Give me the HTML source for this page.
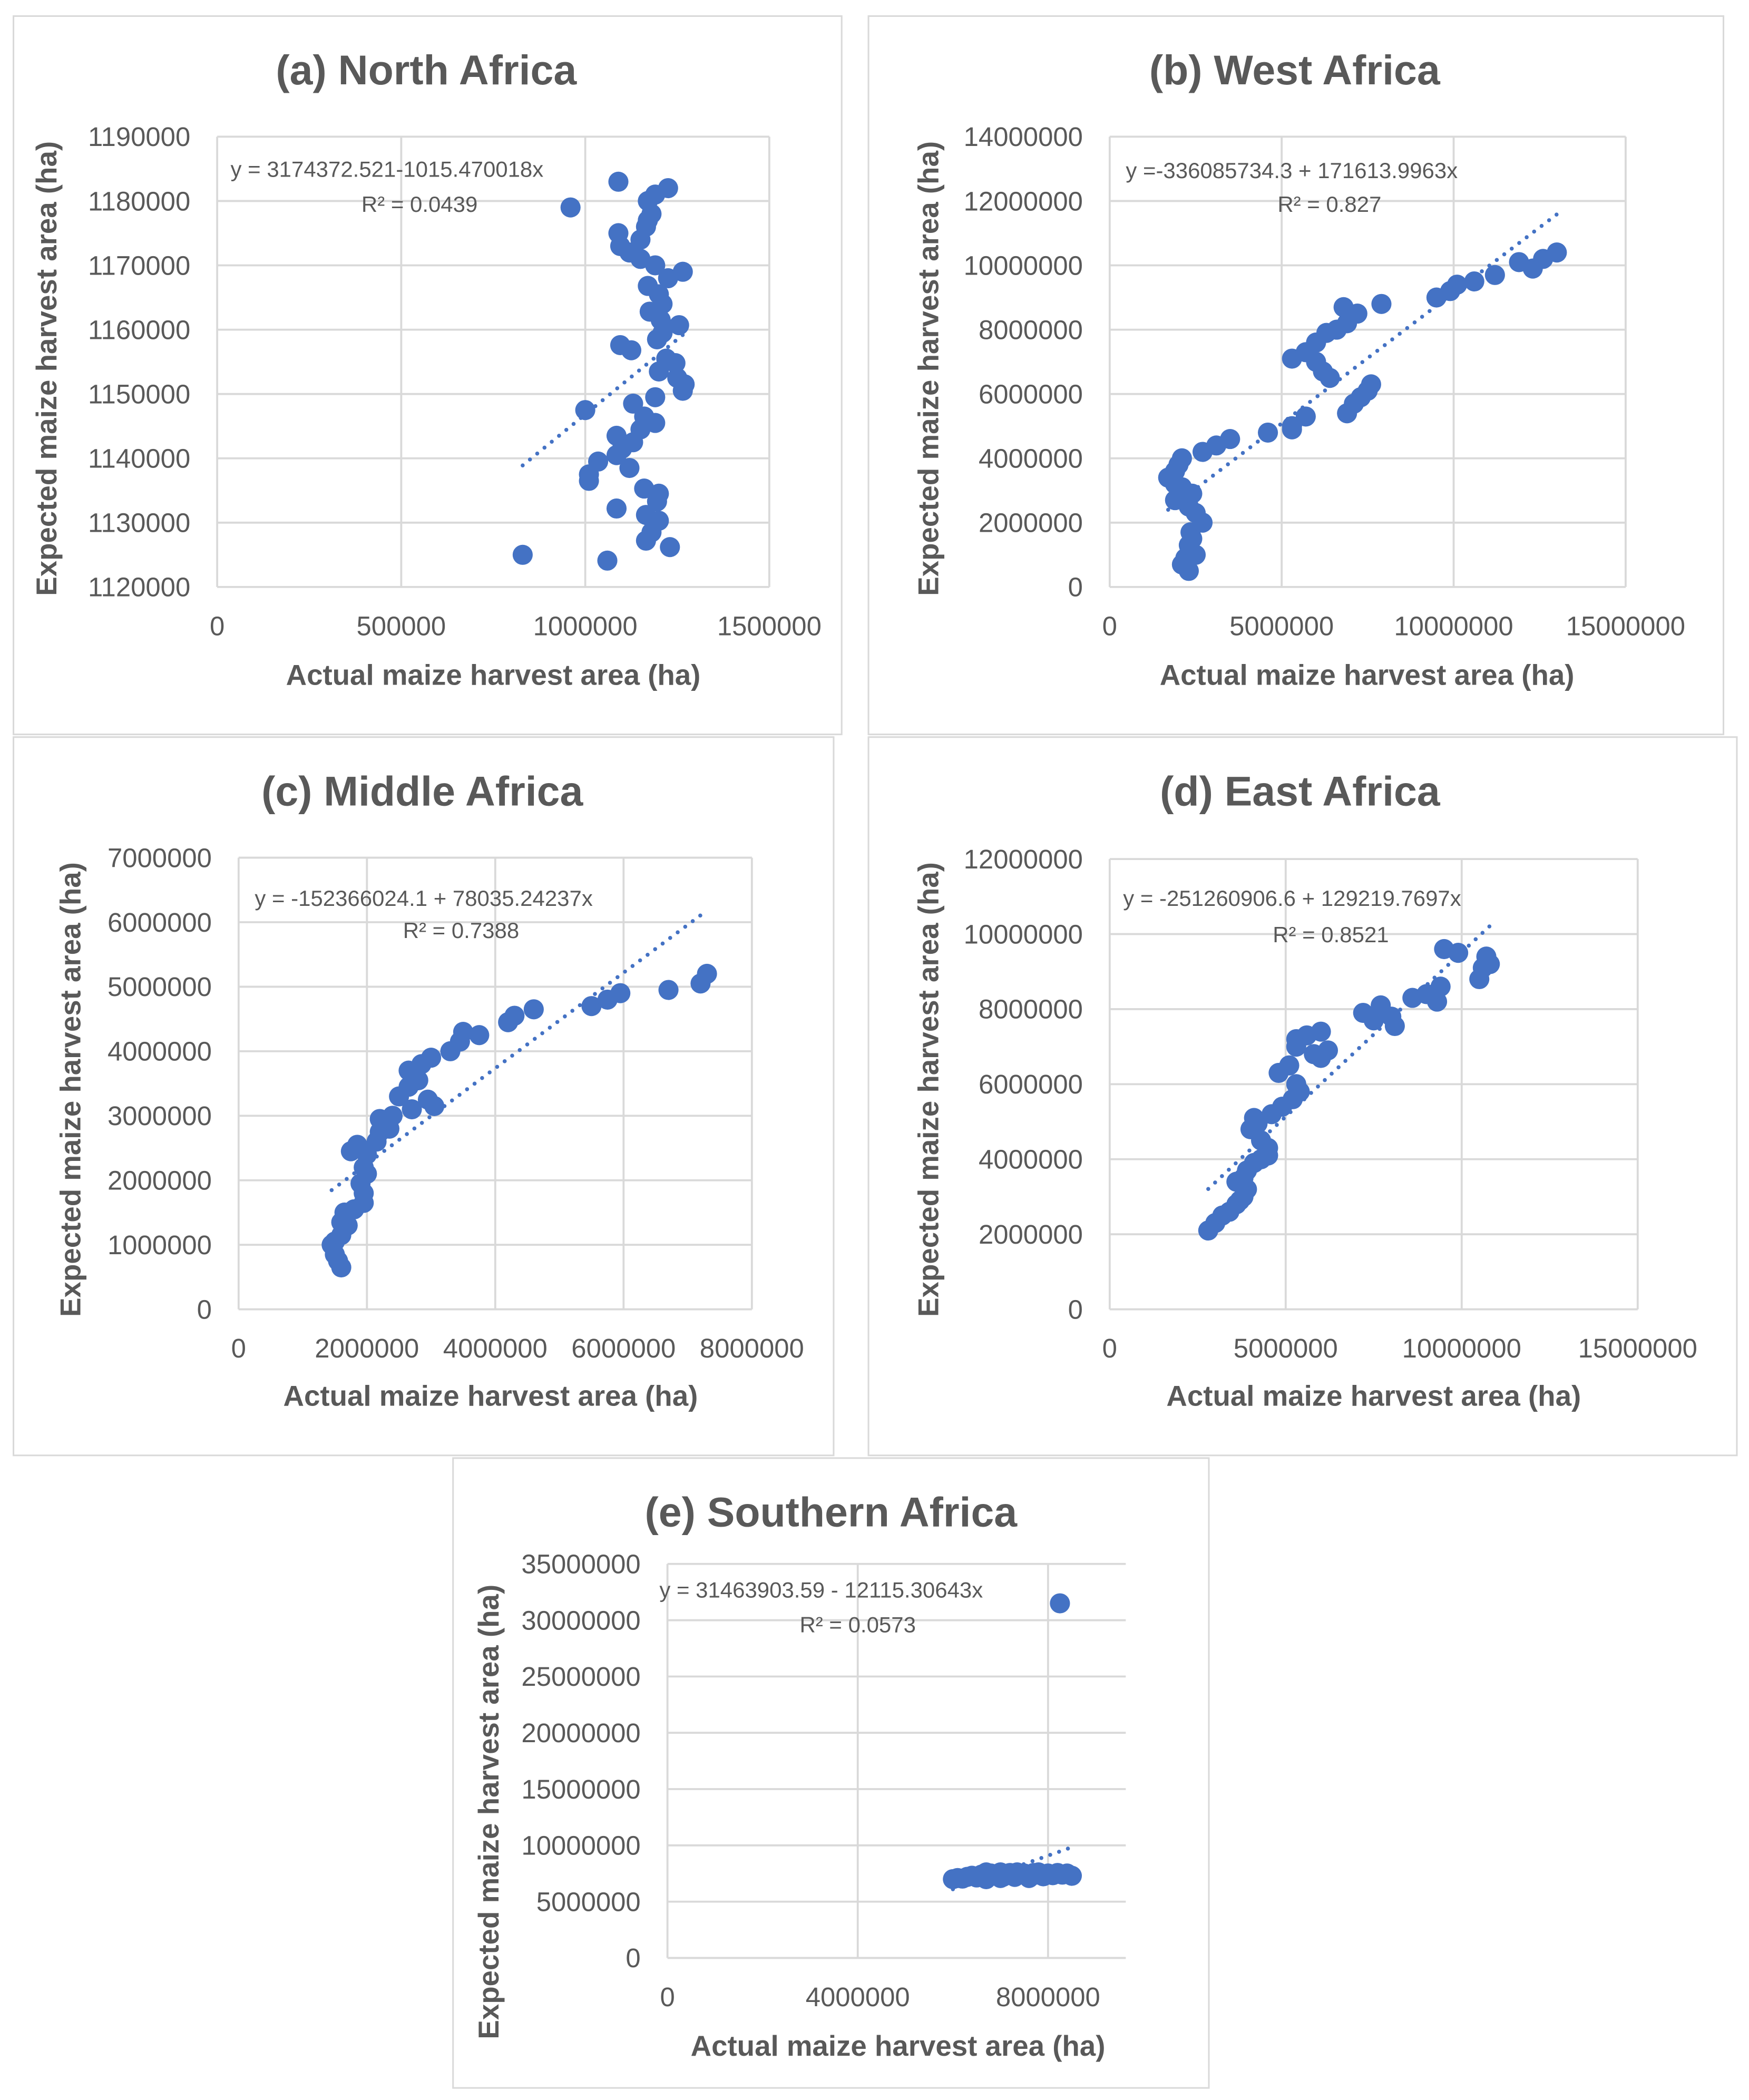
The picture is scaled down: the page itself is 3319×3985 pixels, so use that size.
<!DOCTYPE html>
<html><head><meta charset="utf-8"><style>
html,body{margin:0;padding:0;background:#fff;}
svg{display:block;}
text{font-family:"Liberation Sans",sans-serif;fill:#595959;}
</style></head><body>
<svg id="fig" width="3319" height="3985" viewBox="0 0 1305 1567" xmlns="http://www.w3.org/2000/svg"></svg>
<script>
// ---- data (x, y) ----
const aX=[1.09,1.225,0.96,1.17,1.19,1.18,1.17,1.165,1.09,1.15,1.095,1.12,1.15,1.19,1.265,1.225,1.17,1.2,1.21,1.175,1.205,1.255,1.21,1.195,1.095,1.125,1.22,1.245,1.2,1.25,1.27,1.265,1.19,1.13,1.0,1.16,1.19,1.15,1.085,1.13,1.1,1.085,1.035,1.12,1.01,1.01,1.16,1.2,1.195,1.085,1.165,1.2,1.18,1.165,1.23,0.83,1.06];
const aY=[1183.0,1182.0,1179.0,1180.0,1181.0,1178.0,1177.0,1176.0,1175.0,1174.0,1173.0,1172.0,1171.0,1170.0,1169.0,1168.0,1166.8,1165.5,1164.0,1162.8,1161.5,1160.7,1159.5,1158.5,1157.6,1156.8,1155.5,1154.8,1153.5,1152.5,1151.5,1150.5,1149.5,1148.5,1147.5,1146.5,1145.5,1144.5,1143.5,1142.5,1141.5,1140.5,1139.5,1138.5,1137.5,1136.5,1135.3,1134.5,1133.3,1132.2,1131.2,1130.3,1128.5,1127.2,1126.2,1125.0,1124.1];
const bX=[2.3,2.1,2.2,2.5,2.3,2.4,2.35,2.7,2.5,2.3,2.2,1.9,2.4,2.1,1.7,1.9,2.0,2.1,1.9,2.7,3.1,3.5,4.6,5.3,5.3,5.7,6.9,7.1,7.3,7.5,7.6,5.3,5.7,6.0,6.2,6.4,6.0,6.3,6.6,6.8,6.9,7.2,7.9,9.5,9.9,10.1,10.6,11.2,11.9,12.3,12.6,13.0];
const bY=[0.5,0.7,0.9,1.0,1.3,1.5,1.7,2.0,2.3,2.5,2.8,2.7,2.9,3.1,3.4,3.2,3.8,4.0,3.6,4.2,4.4,4.6,4.8,5.0,4.9,5.3,5.4,5.7,5.9,6.1,6.3,7.1,7.3,7.0,6.7,6.5,7.6,7.9,8.0,8.7,8.2,8.5,8.8,9.0,9.2,9.4,9.5,9.7,10.1,9.9,10.2,10.4];
const cX=[1.6,1.55,1.5,1.45,1.5,1.6,1.7,1.6,1.65,1.8,1.95,1.95,1.9,2.0,1.95,2.0,1.75,1.85,2.15,2.2,2.35,2.2,2.4,2.7,2.95,3.05,2.5,2.65,2.8,2.65,2.85,3.0,3.3,3.45,3.5,3.75,4.2,4.3,4.6,5.5,5.75,5.95,6.7,7.2,7.3];
const cY=[0.65,0.75,0.85,1.0,1.05,1.15,1.3,1.35,1.5,1.55,1.65,1.8,1.95,2.1,2.2,2.4,2.45,2.55,2.6,2.75,2.8,2.95,3.0,3.1,3.25,3.15,3.3,3.45,3.55,3.7,3.8,3.9,4.0,4.15,4.3,4.25,4.45,4.55,4.65,4.7,4.8,4.9,4.95,5.05,5.2];
const dX=[2.8,3.0,3.2,3.4,3.6,3.7,3.8,3.9,3.6,3.8,3.9,4.1,4.3,4.5,4.5,4.3,4.0,4.2,4.1,4.6,4.9,5.2,5.4,5.3,4.8,5.1,5.3,5.3,5.6,6.0,5.8,6.0,6.2,7.2,7.5,7.7,8.0,8.1,8.6,9.0,9.4,9.3,9.5,9.9,10.5,10.6,10.7,10.8];
const dY=[2.1,2.3,2.5,2.6,2.8,2.9,3.0,3.2,3.4,3.5,3.7,3.9,4.0,4.1,4.3,4.5,4.8,4.95,5.1,5.2,5.4,5.6,5.8,6.0,6.3,6.5,7.0,7.2,7.3,7.4,6.8,6.7,6.9,7.9,7.7,8.1,7.8,7.55,8.3,8.4,8.6,8.2,9.6,9.5,8.8,9.1,9.4,9.2];
const eX=[6.0,6.1,6.2,6.3,6.4,6.5,6.6,6.7,6.75,6.8,6.9,7.0,7.05,7.1,7.2,7.3,7.35,7.4,7.5,7.6,7.7,7.75,7.8,7.9,8.0,8.1,8.2,8.3,8.4,8.5,6.7,7.0,7.3,7.6,7.9,8.25];
const eY=[7.0,7.1,7.05,7.2,7.3,7.15,7.4,7.6,7.3,7.5,7.35,7.6,7.2,7.45,7.55,7.3,7.6,7.4,7.5,7.35,7.55,7.4,7.6,7.45,7.5,7.35,7.55,7.4,7.5,7.3,7.0,7.1,7.2,7.1,7.25,31.5];
// tick labels
const aYt=["1120000","1130000","1140000","1150000","1160000","1170000","1180000","1190000"];
const aXt=["0","500000","1000000","1500000"];
const bYt=["0","2000000","4000000","6000000","8000000","10000000","12000000","14000000"];
const bXt=["0","5000000","10000000","15000000"];
const cYt=["0","1000000","2000000","3000000","4000000","5000000","6000000","7000000"];
const cXt=["0","2000000","4000000","6000000","8000000"];
const dYt=["0","2000000","4000000","6000000","8000000","10000000","12000000"];
const dXt=["0","5000000","10000000","15000000"];
const eYt=["0","5000000","10000000","15000000","20000000","25000000","30000000","35000000"];
const eXt=["0","4000000","8000000"];

const NS="http://www.w3.org/2000/svg";
const svg=document.getElementById('fig');
function mk(tag,attrs,parent){const e=document.createElementNS(NS,tag);for(const k in attrs)e.setAttribute(k,attrs[k]);(parent||svg).appendChild(e);return e;}

const panels=[
 {key:'a',title:'(a) North Africa',box:[10,12,618,536],px:[162,574],py:[438,102],xr:[0,1.5],yr:[1120,1190],X:aX,Y:aY,xt:aXt,yt:aYt,tc:[318,52],eq:'y = 3174372.521-1015.470018x',r2:'R² = 0.0439',eqp:[172,132],r2p:[313,158],yl:[42,275],xl:[368,511]},
 {key:'b',title:'(b) West Africa',box:[648,12,638,536],px:[828,1213],py:[438,102],xr:[0,15],yr:[0,14],X:bX,Y:bY,xt:bXt,yt:bYt,tc:[966,52],eq:'y =-336085734.3 + 171613.9963x',r2:'R² = 0.827',eqp:[840,133],r2p:[992,158],yl:[700,275],xl:[1020,511]},
 {key:'c',title:'(c) Middle Africa',box:[10,550,612,536],px:[178,561],py:[977,640],xr:[0,8],yr:[0,7],X:cX,Y:cY,xt:cXt,yt:cYt,tc:[315,590],eq:'y = -152366024.1 + 78035.24237x',r2:'R² = 0.7388',eqp:[190,676],r2p:[344,700],yl:[60,813],xl:[366,1049]},
 {key:'d',title:'(d) East Africa',box:[648,550,648,536],px:[828,1222],py:[977,641],xr:[0,15],yr:[0,12],X:dX,Y:dY,xt:dXt,yt:dYt,tc:[970,590],eq:'y = -251260906.6 + 129219.7697x',r2:'R² = 0.8521',eqp:[838,676],r2p:[993,703],yl:[700,813],xl:[1025,1049]},
 {key:'e',title:'(e) Southern Africa',box:[338,1088,564,470],px:[498,840],py:[1461,1167],xr:[0,8*342/284],yr:[0,35],X:eX,Y:eY,xt:eXt,yt:eYt,tc:[620,1128],eq:'y = 31463903.59 - 12115.30643x',r2:'R² = 0.0573',eqp:[492,1192],r2p:[640,1218],yl:[372,1352],xl:[670,1534]}
];

panels.forEach(p=>{
  const g=mk('g',{});
  
  
  const box=mk('rect',{x:p.box[0],y:p.box[1],width:p.box[2],height:p.box[3],fill:'#fff',stroke:'#d9d9d9','stroke-width':1.2},g);
  
  
  const sx=v=>p.px[0]+(v-p.xr[0])/(p.xr[1]-p.xr[0])*(p.px[1]-p.px[0]);
  const sy=v=>p.py[0]+(v-p.yr[0])/(p.yr[1]-p.yr[0])*(p.py[1]-p.py[0]);
  const ny=p.yt.length;
  p.yt.forEach((t,i)=>{
    const y=p.py[0]+i*(p.py[1]-p.py[0])/(ny-1);
    const ln=mk('line',{x1:p.px[0],x2:p.px[1],y1:y,y2:y,stroke:'#d9d9d9','stroke-width':1.5},g);
    
    
    const tx=mk('text',{x:p.px[0]-20,y:y+7,'text-anchor':'end','font-size':20},g);
    tx.textContent=t;
    
    
  });
  const stepPx=(p.key==='e')?(p.px[1]-p.px[0])*284/342/2:(p.px[1]-p.px[0])/(p.xt.length-1);
  p.xt.forEach((t,i)=>{
    const x=p.px[0]+i*stepPx;
    const ln=mk('line',{x1:x,x2:x,y1:p.py[0],y2:p.py[1],stroke:'#d9d9d9','stroke-width':1.5},g);
    
    
    const tx=mk('text',{x:x,y:p.py[0]+36,'text-anchor':'middle','font-size':20},g);
    tx.textContent=t;
    
    
  });
  p.X.forEach((xv,i)=>{
    const c=mk('circle',{cx:sx(xv),cy:sy(p.Y[i]),r:7.5,fill:'#4472c4'},g);
    
    
  });
  const n=p.X.length;let mx=0,my=0;p.X.forEach((v,i)=>{mx+=v;my+=p.Y[i];});mx/=n;my/=n;
  let sxy=0,sxx=0;p.X.forEach((v,i)=>{sxy+=(v-mx)*(p.Y[i]-my);sxx+=(v-mx)*(v-mx);});
  const b=sxy/sxx,a0=my-b*mx;const x0=Math.min(...p.X),x1=Math.max(...p.X);
  const tl=mk('line',{x1:sx(x0),y1:sy(a0+b*x0),x2:sx(x1),y2:sy(a0+b*x1),stroke:'#4472c4','stroke-width':3,'stroke-dasharray':'0 7','stroke-linecap':'round'},g);
  
  
  const ti=mk('text',{x:p.tc[0],y:p.tc[1]+11,'text-anchor':'middle','font-size':31,'font-weight':'bold'},g);
  ti.textContent=p.title;
  
  
  const eq=mk('text',{x:p.eqp[0],y:p.eqp[1],'font-size':16.5},g);
  eq.textContent=p.eq;
  
  
  const r2=mk('text',{x:p.r2p[0],y:p.r2p[1],'text-anchor':'middle','font-size':16.5},g);
  r2.textContent=p.r2;
  
  
  const xl=mk('text',{x:p.xl[0],y:p.xl[1],'text-anchor':'middle','font-size':21.5,'font-weight':'bold'},g);
  xl.textContent='Actual maize harvest area (ha)';
  
  
  const yl=mk('text',{x:0,y:0,'text-anchor':'middle','font-size':21.5,'font-weight':'bold',transform:'translate('+p.yl[0]+','+p.yl[1]+') rotate(-90)'},g);
  yl.textContent='Expected maize harvest area (ha)';
  
  
});
</script>
</body></html>
